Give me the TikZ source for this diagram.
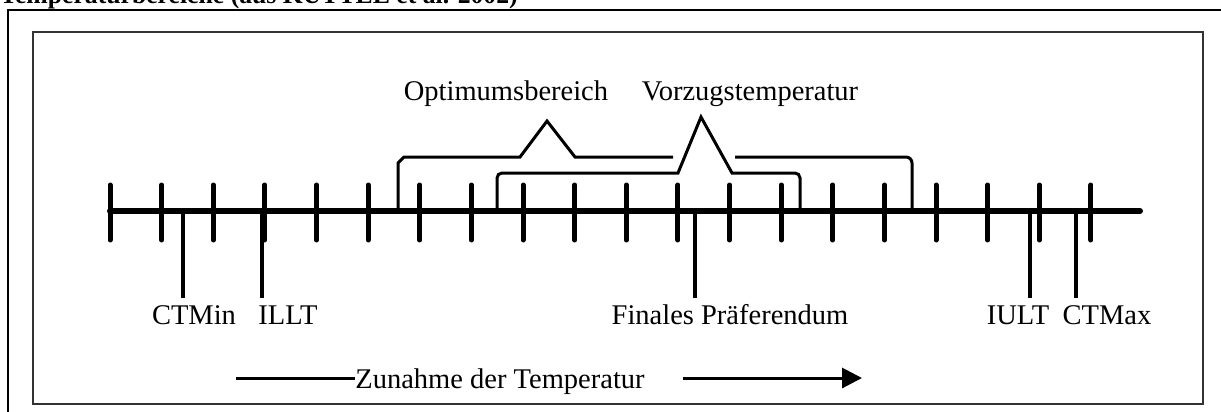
\documentclass[tikz,border=0pt]{standalone}
\usepackage{fontspec}
\setmainfont{Liberation Serif}
\usetikzlibrary{arrows.meta}
\begin{document}
\begin{tikzpicture}[x=1pt,y=-1pt,
  lbl/.style={inner sep=0pt, anchor=base, font=\fontsize{28.5}{30}\selectfont},
  tickline/.style={line width=5pt, line cap=round},
  axisline/.style={line width=6pt, line cap=round},
  markline/.style={line width=3.5pt},
  bracketline/.style={line width=3pt, line join=miter},
  outerframe/.style={line width=2.5pt},
  innerframe/.style={line width=2.2pt, draw=black!80},
  arrowline/.style={line width=3pt},
]
\useasboundingbox (0,0) rectangle (1221,412);
\clip (0,0) rectangle (1221,412);
% title (cut off at the top)
\node[inner sep=0pt, anchor=base west, font=\fontsize{25.7}{28}\selectfont\bfseries] (title) at (0,4) {Temperaturbereiche (aus KÜTTEL et al. 2002)};
% outer frame
\draw[outerframe] (8,415) -- (8,10) -- (1225,10);
% inner frame
\draw[innerframe] (33,32) rectangle (1203,404);
% axis
\coordinate (axL) at (110,211);
\coordinate (axR) at (1140,211);
\draw[axisline] (axL) -- (axR);
\foreach \k in {0,...,19}{
  \draw[tickline] ({110+\k*51.63},185) -- ({110+\k*51.63},240);
}
% labels below
\node[lbl] (ctmin) at (194,324) {CTMin};
\node[lbl] (illt) at (288,324) {ILLT};
\node[lbl] (fp) at (730,324) {Finales Präferendum};
\node[lbl] (iult) at (1018,324) {IULT};
\node[lbl] (ctmax) at (1107,324) {CTMax};
% marker lines
\foreach \x/\n in {183/a,262/b,695/c,1030/d,1076/e}{
  \coordinate (top\n) at (\x,211);
  \coordinate (bot\n) at (\x,298);
  \draw[markline] (top\n) -- (bot\n);
}
% labels above
\node[lbl] (opt) at (506,100) {Optimumsbereich};
\node[lbl] (vor) at (750,100) {Vorzugstemperatur};
% Optimumsbereich bracket
\coordinate (oL) at (398,211);
\coordinate (oR) at (912,211);
\coordinate (oPeak) at (547,121);
\draw[bracketline] (oL) -- (398,163) -- (404,157) -- (520,157) -- (oPeak) -- (575,157) -- (673,157);
\draw[bracketline] (735,157) [rounded corners=6pt] -- (912,157) [sharp corners] -- (oR);
% Vorzugstemperatur bracket
\coordinate (vL) at (497,211);
\coordinate (vR) at (800,211);
\coordinate (vPeak) at (701,117);
\draw[bracketline] (vL) [rounded corners=5pt] -- (497,173) [sharp corners] -- (678,173) -- (vPeak) -- (732,173) [rounded corners=5pt] -- (800,173) [sharp corners] -- (vR);
% Zunahme arrow
\node[lbl] (zun) at (500,388) {Zunahme der Temperatur};
\coordinate (zA) at (236,378);
\coordinate (zB) at (683,378);
\coordinate (zTip) at (862,378);
\draw[arrowline] (zA) -- (zun.west |- zA);
\draw[arrowline, -{Triangle[length=20pt,width=20pt]}] (zB) -- (zTip);
\end{tikzpicture}
\end{document}
